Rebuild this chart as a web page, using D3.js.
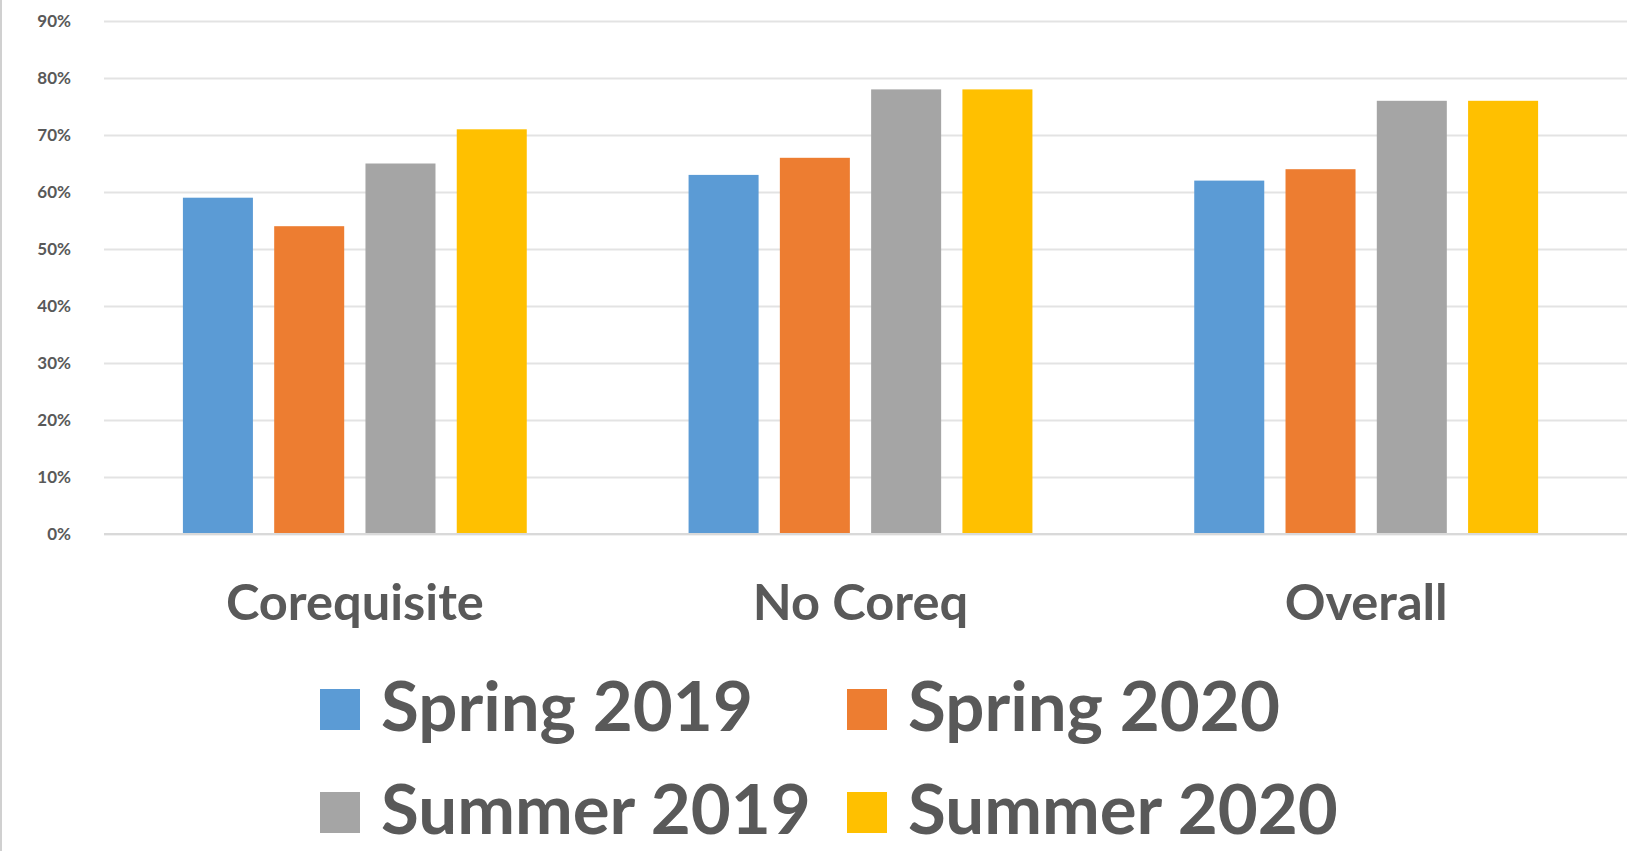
<!DOCTYPE html>
<html>
<head>
<meta charset="utf-8">
<script src="https://cdn.jsdelivr.net/npm/d3@7"></script>
<style>
  html, body { margin: 0; padding: 0; background: #ffffff; }
  svg { display: block; }
</style>
</head>
<body>
<script>
// ---- data ----
const categories = ["Corequisite", "No Coreq", "Overall"];
const seriesNames = ["Spring 2019", "Spring 2020", "Summer 2019", "Summer 2020"];
const spring2019 = [0.59, 0.63, 0.62];
const spring2020 = [0.54, 0.66, 0.64];
const summer2019 = [0.65, 0.78, 0.76];
const summer2020 = [0.71, 0.78, 0.76];
const yTicks = [0, 0.1, 0.2, 0.3, 0.4, 0.5, 0.6, 0.7, 0.8, 0.9];
const seriesColors = ["#5b9bd5", "#ed7d31", "#a5a5a5", "#ffc000"];

const seriesValues = [spring2019, spring2020, summer2019, summer2020];

const W = 1630, H = 851;
const svg = d3.select("body").append("svg").attr("width", W).attr("height", H);
const textColor = "#595959";
const fontFam = "Lato, 'Open Sans', sans-serif";

// left border line
svg.append("line").attr("x1", 1).attr("x2", 1).attr("y1", 0).attr("y2", H)
  .attr("stroke", "#d0d0d0").attr("stroke-width", 2);

const x0 = d3.scaleBand().domain(categories).range([102, 1619])
  .paddingInner(0.32).paddingOuter(0.16);
const x1 = d3.scaleBand().domain(seriesNames).range([0, x0.bandwidth()])
  .paddingInner(0.233).paddingOuter(0);
const y = d3.scaleLinear().domain([0, 0.9]).range([534, 21]);

// gridlines
const yAxis = d3.axisLeft(y).tickValues(yTicks).tickFormat(d3.format(".0%"))
  .tickSize(-(1627 - 104)).tickPadding(33);
const gAxis = svg.append("g").attr("transform", "translate(104,0)").call(yAxis);
gAxis.select(".domain").remove();
gAxis.selectAll(".tick line").attr("stroke", "#e3e3e3").attr("stroke-width", 2);
gAxis.selectAll(".tick text")
  .attr("fill", textColor).attr("font-family", fontFam)
  .attr("font-weight", "bold").attr("font-size", 17);

// bars
const groups = svg.append("g").selectAll("g").data(categories).join("g")
  .attr("transform", d => `translate(${x0(d)},0)`);
groups.selectAll("rect")
  .data((c, ci) => seriesNames.map((s, si) => ({ s, si, v: seriesValues[si][ci] })))
  .join("rect")
  .attr("x", d => x1(d.s))
  .attr("width", x1.bandwidth())
  .attr("y", d => y(d.v))
  .attr("height", d => y(0) - y(d.v))
  .attr("fill", d => seriesColors[d.si]);

// baseline
svg.append("line").attr("x1", 104).attr("x2", 1627).attr("y1", y(0)).attr("y2", y(0))
  .attr("stroke", "#d9d9d9").attr("stroke-width", 2);

// helper to fit font size to target width
function fitSize(sample, target, base) {
  const t = svg.append("text").attr("font-family", fontFam).attr("font-weight", "bold")
    .attr("font-size", base).text(sample);
  const w = t.node().getComputedTextLength();
  t.remove();
  return base * target / w;
}

// category labels
const catSize = fitSize("Corequisite", 258, 40);
svg.append("g").selectAll("text").data(categories).join("text")
  .attr("x", d => x0(d) + x0.bandwidth() / 2)
  .attr("y", 620)
  .attr("text-anchor", "middle")
  .attr("fill", textColor).attr("font-family", fontFam)
  .attr("font-weight", "bold").attr("font-size", catSize)
  .text(d => d);

// legend
const legSize = fitSize("Spring 2019", 372, 60);
const legendCols = [320, 847];
const legendRows = [710, 813];
const leg = svg.append("g").selectAll("g").data(seriesNames).join("g")
  .attr("transform", (d, i) => `translate(${legendCols[i % 2]},${legendRows[Math.floor(i / 2)]})`);
leg.append("rect").attr("x", 0).attr("y", -21).attr("width", 40).attr("height", 41)
  .attr("fill", (d, i) => seriesColors[i]);
leg.append("text").attr("x", 61).attr("y", 21)
  .attr("fill", textColor).attr("font-family", fontFam)
  .attr("font-weight", "bold").attr("font-size", legSize)
  .text(d => d);
</script>
</body>
</html>
